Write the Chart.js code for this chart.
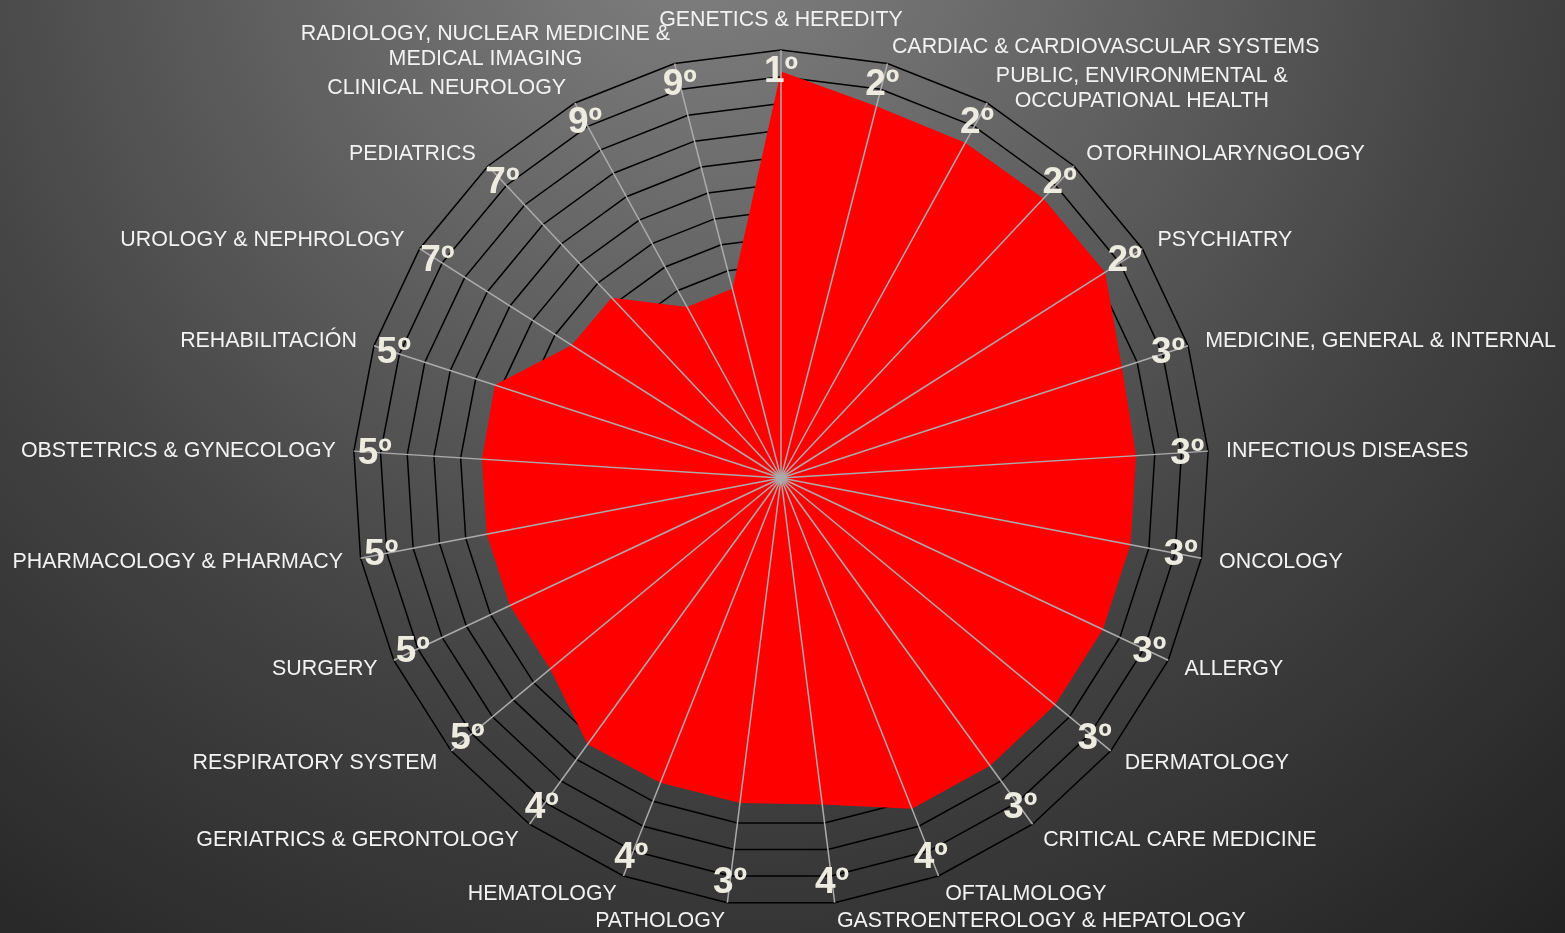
<!DOCTYPE html>
<html><head><meta charset="utf-8">
<script src="https://cdn.jsdelivr.net/npm/chart.js@4.4.1/dist/chart.umd.min.js"></script>
<style>
html,body{margin:0;padding:0;width:1565px;height:933px;overflow:hidden;}
body{background: radial-gradient(circle farthest-corner at 45% -10%, #828282 0%, #5e5e5e 35%, #434343 60%, #2c2c2c 88%, #222 100%);}
#c{display:block;}
</style></head><body>
<canvas id="c" width="1565" height="933"></canvas>
<script>
const categories = [
  "GENETICS & HEREDITY",
  "CARDIAC & CARDIOVASCULAR SYSTEMS",
  ["PUBLIC, ENVIRONMENTAL &", "OCCUPATIONAL HEALTH"],
  "OTORHINOLARYNGOLOGY",
  "PSYCHIATRY",
  "MEDICINE, GENERAL & INTERNAL",
  "INFECTIOUS DISEASES",
  "ONCOLOGY",
  "ALLERGY",
  "DERMATOLOGY",
  "CRITICAL CARE MEDICINE",
  "OFTALMOLOGY",
  "GASTROENTEROLOGY & HEPATOLOGY",
  "PATHOLOGY",
  "HEMATOLOGY",
  "GERIATRICS & GERONTOLOGY",
  "RESPIRATORY SYSTEM",
  "SURGERY",
  "PHARMACOLOGY & PHARMACY",
  "OBSTETRICS & GYNECOLOGY",
  "REHABILITACIÓN",
  "UROLOGY & NEPHROLOGY",
  "PEDIATRICS",
  "CLINICAL NEUROLOGY",
  ["RADIOLOGY, NUCLEAR MEDICINE &", "MEDICAL IMAGING"]
];
const scores = [15.2, 14.35, 14.3, 14.33, 14.35, 13.4, 13.3, 13.3, 13.3, 13.3, 13.3, 13.3, 12.3, 12.25, 12.25, 12.3, 11.2, 11.2, 11.2, 11.2, 11.25, 9.27, 9.25, 7.3, 7.3];
const ranks = [1, 2, 2, 2, 2, 3, 3, 3, 3, 3, 3, 4, 4, 3, 4, 4, 5, 5, 5, 5, 5, 7, 7, 9, 9];
const rankLabels = ranks.map(r => r + "º");
const scaleMin = 0;
const scaleMax = 16;
const scaleStep = 1;

const overlay = {
  id: 'overlay',
  afterDatasetsDraw(chart) {
    const s = chart.scales.r;
    const ctx = chart.ctx;
    const labels = chart.data.labels;
    const n = labels.length;
    ctx.save();
    // spokes over the filled area
    ctx.strokeStyle = '#ababab';
    ctx.lineWidth = 1.5;
    for (let i = 0; i < n; i++) {
      const p = s.getPointPositionForValue(i, s.max);
      ctx.beginPath();
      ctx.moveTo(s.xCenter, s.yCenter);
      ctx.lineTo(p.x, p.y);
      ctx.stroke();
    }
    // rank labels
    ctx.font = 'bold 37px "Liberation Sans", Arial, sans-serif';
    ctx.fillStyle = '#EEECE1';
    ctx.textAlign = 'center';
    ctx.textBaseline = 'middle';
    const rr = s.drawingArea * 407 / 428;
    for (let i = 0; i < n; i++) {
      const p = s.getPointPosition(i, rr);
      ctx.fillText(rankLabels[i], p.x, p.y + 1);
    }
    // category labels
    ctx.font = '21.4px "Liberation Sans", Arial, sans-serif';
    ctx.fillStyle = '#F2F2F2';
    const lh = 25;
    for (let i = 0; i < n; i++) {
      const lines = Array.isArray(labels[i]) ? labels[i] : [labels[i]];
      const p = s.getPointPosition(i, s.drawingArea + 18);
      const ang = Math.round(i * 360 / n * 10) / 10;
      const W = Math.max(...lines.map(l => ctx.measureText(l).width));
      let cx;
      if (ang === 0 || ang === 180) cx = p.x;
      else if (ang < 180) cx = p.x + W / 2;
      else cx = p.x - W / 2;
      const H = lines.length * lh;
      const top = ang === 0 ? p.y - H : p.y - H / 2;
      lines.forEach((l, k) => ctx.fillText(l, cx, top + lh * k + lh / 2 + 1));
    }
    ctx.restore();
  }
};

new Chart(document.getElementById('c'), {
  type: 'radar',
  data: {
    labels: categories,
    datasets: [{
      data: scores,
      backgroundColor: '#FF0000',
      borderWidth: 0,
      borderColor: 'rgba(0,0,0,0)',
      pointRadius: 0,
      pointHoverRadius: 0,
      fill: true
    }]
  },
  options: {
    responsive: false,
    animation: false,
    layout: { padding: { top: 50, bottom: 27, left: 0, right: 3 } },
    plugins: { legend: { display: false }, tooltip: { enabled: false } },
    elements: { line: { tension: 0 } },
    scales: {
      r: {
        min: scaleMin,
        max: scaleMax,
        startAngle: 0,
        ticks: { display: false, stepSize: scaleStep },
        grid: { color: '#000000', lineWidth: 1.5, circular: false },
        angleLines: { display: false },
        pointLabels: { display: false }
      }
    }
  },
  plugins: [overlay]
});
</script>
</body></html>
